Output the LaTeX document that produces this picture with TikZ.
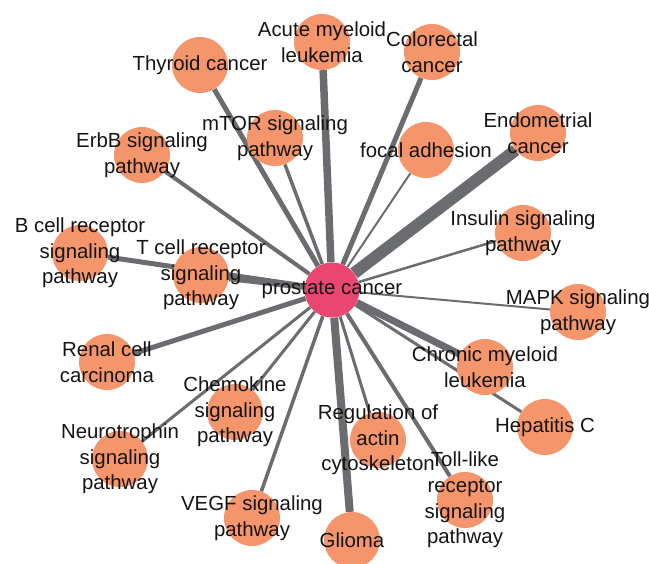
\documentclass[tikz,border=0pt]{standalone}
\usepackage{fontspec}
\setmainfont{Liberation Sans}
\usetikzlibrary{backgrounds}
\definecolor{nodeor}{HTML}{F5956B}
\definecolor{hubpink}{HTML}{EB4571}
\definecolor{edgegray}{HTML}{6B6C70}
\definecolor{txt}{HTML}{141414}
\begin{document}
\begin{tikzpicture}[x=1pt,y=-1pt,
  circ/.style={circle,fill=nodeor,minimum size=56pt,inner sep=0pt},
  hub/.style={circle,fill=hubpink,minimum size=55pt,inner sep=0pt},
  lab/.style={align=center,text=txt,font=\fontsize{20.4}{25.6}\selectfont,inner sep=0pt},
  edge/.style={draw=edgegray,line width=#1}]
\useasboundingbox (0,0) rectangle (649,564);
% circles
\node[hub]  (hub)  at (332,290) {};
\node[circ] (thy)  at (200,65)  {};
\node[circ] (aml)  at (322,42)  {};
\node[circ] (crc)  at (432,52)  {};
\node[circ] (mtor) at (275,138) {};
\node[circ] (erbb) at (142,155) {};
\node[circ] (foc)  at (426,150) {};
\node[circ] (endo) at (538,133) {};
\node[circ] (ins)  at (523,233) {};
\node[circ] (bcr)  at (80,253)  {};
\node[circ] (tcr)  at (201,275) {};
\node[circ] (mapk) at (578,312) {};
\node[circ] (ren)  at (107,362) {};
\node[circ] (cml)  at (485,367) {};
\node[circ] (chem) at (235,412) {};
\node[circ] (hep)  at (545,427) {};
\node[circ] (neu)  at (120,459) {};
\node[circ] (act)  at (378,440) {};
\node[circ] (toll) at (465,500) {};
\node[circ] (vegf) at (252,518) {};
\node[circ] (gli)  at (352,540) {};
% edges
\begin{scope}[on background layer]
\draw[edge=5pt]   (hub) -- (thy);
\draw[edge=7.5pt] (hub) -- (aml);
\draw[edge=5pt]   (hub) -- (crc);
\draw[edge=3.5pt] (hub) -- (mtor);
\draw[edge=4pt]   (hub) -- (erbb);
\draw[edge=2pt]   (hub) -- (foc);
\draw[edge=12pt]  (hub) -- (endo);
\draw[edge=2.5pt] (hub) -- (ins);
\draw[edge=5pt]   (hub) -- (bcr);
\draw[edge=6pt]   (hub) -- (tcr);
\draw[edge=2pt]   (hub) -- (mapk);
\draw[edge=5pt]   (hub) -- (ren);
\draw[edge=7pt]   (hub) -- (cml);
\draw[edge=3pt]   (hub) -- (chem);
\draw[edge=3pt]   (hub) -- (hep);
\draw[edge=3pt]   (hub) -- (neu);
\draw[edge=3pt]   (hub) -- (act);
\draw[edge=4pt]   (hub) -- (toll);
\draw[edge=3.5pt] (hub) -- (vegf);
\draw[edge=8pt]   (hub) -- (gli);
\end{scope}
% labels
\node[lab] (hubL)  at (hub)  {prostate cancer};
\node[lab] (thyL)  at (thy)  {Thyroid cancer};
\node[lab] (amlL)  at (aml)  {Acute myeloid\\leukemia};
\node[lab] (crcL)  at (crc)  {Colorectal\\cancer};
\node[lab] (mtorL) at (mtor) {mTOR signaling\\pathway};
\node[lab] (erbbL) at (erbb) {ErbB signaling\\pathway};
\node[lab] (focL)  at (foc)  {focal adhesion};
\node[lab] (endoL) at (endo) {Endometrial\\cancer};
\node[lab] (insL)  at (ins)  {Insulin signaling\\pathway};
\node[lab] (bcrL)  at (bcr)  {B cell receptor\\signaling\\pathway};
\node[lab] (tcrL)  at (tcr)  {T cell receptor\\signaling\\pathway};
\node[lab] (mapkL) at (mapk) {MAPK signaling\\pathway};
\node[lab] (renL)  at (ren)  {Renal cell\\carcinoma};
\node[lab] (cmlL)  at (cml)  {Chronic myeloid\\leukemia};
\node[lab] (chemL) at (chem) {Chemokine\\signaling\\pathway};
\node[lab] (hepL)  at (hep)  {Hepatitis C};
\node[lab] (neuL)  at (neu)  {Neurotrophin\\signaling\\pathway};
\node[lab] (actL)  at (act)  {Regulation of\\actin\\cytoskeleton};
\node[lab] (tollL) at (toll) {Toll-like\\receptor\\signaling\\pathway};
\node[lab] (vegfL) at (vegf) {VEGF signaling\\pathway};
\node[lab] (gliL)  at (gli)  {Glioma};
\end{tikzpicture}
\end{document}
